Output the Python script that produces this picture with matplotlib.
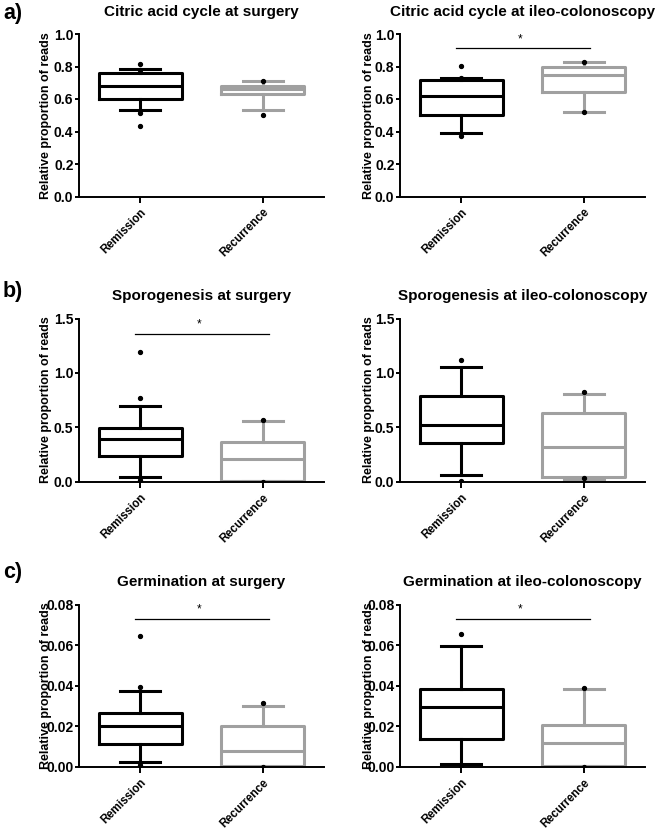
import matplotlib
matplotlib.use("Agg")
import matplotlib.pyplot as plt
from matplotlib.ticker import FormatStrFormatter

plt.rcParams['font.family'] = ['Liberation Sans', 'DejaVu Sans']
plt.rcParams['font.weight'] = 'bold'

categories = ['Remission', 'Recurrence']

# five-number summaries: whislo, q1, med, q3, whishi
citric_surgery_rem = [0.531, 0.603, 0.683, 0.761, 0.782]
citric_surgery_rem_out = [0.815, 0.78, 0.514, 0.432]
citric_surgery_rec = [0.535, 0.628, 0.659, 0.679, 0.712]
citric_surgery_rec_out = [0.71, 0.50]

citric_ileo_rem = [0.392, 0.500, 0.621, 0.715, 0.731]
citric_ileo_rem_out = [0.801, 0.73, 0.373]
citric_ileo_rec = [0.521, 0.643, 0.750, 0.799, 0.828]
citric_ileo_rec_out = [0.83, 0.52]

sporo_surgery_rem = [0.046, 0.236, 0.392, 0.490, 0.695]
sporo_surgery_rem_out = [1.188, 0.768, 0.02]
sporo_surgery_rec = [0.005, 0.010, 0.208, 0.361, 0.554]
sporo_surgery_rec_out = [0.569, 0.0]

sporo_ileo_rem = [0.058, 0.358, 0.523, 0.787, 1.056]
sporo_ileo_rem_out = [1.123, 0.01]
sporo_ileo_rec = [0.020, 0.040, 0.315, 0.634, 0.805]
sporo_ileo_rec_out = [0.82, 0.03]

germ_surgery_rem = [0.0023, 0.0113, 0.0203, 0.0267, 0.0374]
germ_surgery_rem_out = [0.0644, 0.0395, 0.0008]
germ_surgery_rec = [0.0002, 0.0003, 0.0079, 0.0200, 0.0298]
germ_surgery_rec_out = [0.0313, 0.0]

germ_ileo_rem = [0.0015, 0.0139, 0.0297, 0.0385, 0.0595]
germ_ileo_rem_out = [0.0654, 0.0003]
germ_ileo_rec = [0.0003, 0.0005, 0.0118, 0.0207, 0.0385]
germ_ileo_rec_out = [0.039, 0.0]

titles = ['Citric acid cycle at surgery', 'Citric acid cycle at ileo-colonoscopy',
          'Sporogenesis at surgery', 'Sporogenesis at ileo-colonoscopy',
          'Germination at surgery', 'Germination at ileo-colonoscopy']

yticks_a = [0.0, 0.2, 0.4, 0.6, 0.8, 1.0]
yticks_b = [0.0, 0.5, 1.0, 1.5]
yticks_c = [0.00, 0.02, 0.04, 0.06, 0.08]

# significance bars (panel index -> bar height)
sig_bars = {1: 0.912, 2: 1.362, 4: 0.0730, 5: 0.0731}

panels = [
    (citric_surgery_rem, citric_surgery_rem_out, citric_surgery_rec, citric_surgery_rec_out, yticks_a, '%.1f'),
    (citric_ileo_rem, citric_ileo_rem_out, citric_ileo_rec, citric_ileo_rec_out, yticks_a, '%.1f'),
    (sporo_surgery_rem, sporo_surgery_rem_out, sporo_surgery_rec, sporo_surgery_rec_out, yticks_b, '%.1f'),
    (sporo_ileo_rem, sporo_ileo_rem_out, sporo_ileo_rec, sporo_ileo_rec_out, yticks_b, '%.1f'),
    (germ_surgery_rem, germ_surgery_rem_out, germ_surgery_rec, germ_surgery_rec_out, yticks_c, '%.2f'),
    (germ_ileo_rem, germ_ileo_rem_out, germ_ileo_rec, germ_ileo_rec_out, yticks_c, '%.2f'),
]

W, H = 660, 831
fig = plt.figure(figsize=(6.6, 8.31), dpi=100)

cols = [(79, 324), (400, 645)]
label_x = [-0.112, -0.104]
rows = [(34, 196.5), (318.5, 481.7), (604.5, 767)]

BLACK = '#000000'
GRAY = '#a0a0a0'

def stats(vals, out, label):
    lo, q1, med, q3, hi = vals
    return dict(whislo=lo, q1=q1, med=med, q3=q3, whishi=hi, fliers=out, label=label)

for i, (rem, rem_out, rec, rec_out, yt, fmt) in enumerate(panels):
    r, c = divmod(i, 2)
    x0, x1 = cols[c]
    t, b = rows[r]
    ax = fig.add_axes([x0 / W, 1 - b / H, (x1 - x0) / W, (b - t) / H])
    for j, (vals, out, col) in enumerate([(rem, rem_out, BLACK), (rec, rec_out, GRAY)]):
        ax.bxp([stats(vals, out, categories[j])], positions=[j], widths=0.68,
               capwidths=0.33, showfliers=True, patch_artist=False,
               boxprops=dict(color=col, linewidth=2.2),
               whiskerprops=dict(color=col, linewidth=2.2),
               capprops=dict(color=col, linewidth=2.2),
               medianprops=dict(color=col, linewidth=2.2),
               flierprops=dict(marker='o', markerfacecolor='black',
                               markeredgecolor='black', markersize=2.8,
                               linestyle='none'))
    ax.set_xlim(-0.5, 1.5)
    ax.set_ylim(yt[0], yt[-1])
    ax.set_yticks(yt)
    ax.yaxis.set_major_formatter(FormatStrFormatter(fmt))
    ax.set_xticks([0, 1])
    ax.set_xticklabels(categories, rotation=45, ha='right', va='top',
                       rotation_mode='anchor', fontsize=8.3, fontweight='bold')
    for lab in ax.get_yticklabels():
        lab.set_fontsize(10)
        lab.set_fontweight('bold')
    ax.spines['top'].set_visible(False)
    ax.spines['right'].set_visible(False)
    ax.spines['left'].set_linewidth(1.4)
    ax.spines['bottom'].set_linewidth(1.4)
    ax.tick_params(axis='y', direction='out', length=3, width=1.4, pad=1)
    ax.tick_params(axis='x', direction='out', length=4, width=1.4, pad=3)
    ax.set_ylabel('Relative proportion of reads', fontsize=9, fontweight='bold')
    ax.yaxis.set_label_coords(label_x[c], 0.5)
    ax.set_title(titles[i], fontsize=11, fontweight='bold', pad=13)
    if i in sig_bars:
        yb = sig_bars[i]
        span = yt[-1] - yt[0]
        ax.plot([-0.045, 1.05], [yb, yb], color='black', linewidth=0.9, clip_on=False)
        ax.text(0.48, yb + span * 0.02, '*', ha='center', va='bottom',
                fontsize=8.5, fontweight='normal')

for lab, y in [('a)', 3), ('b)', 281), ('c)', 562)]:
    fig.text(3 / W, 1 - y / H, lab, fontsize=15.5, fontweight='bold', va='top', ha='left')

fig.savefig('out.png', dpi=100)
